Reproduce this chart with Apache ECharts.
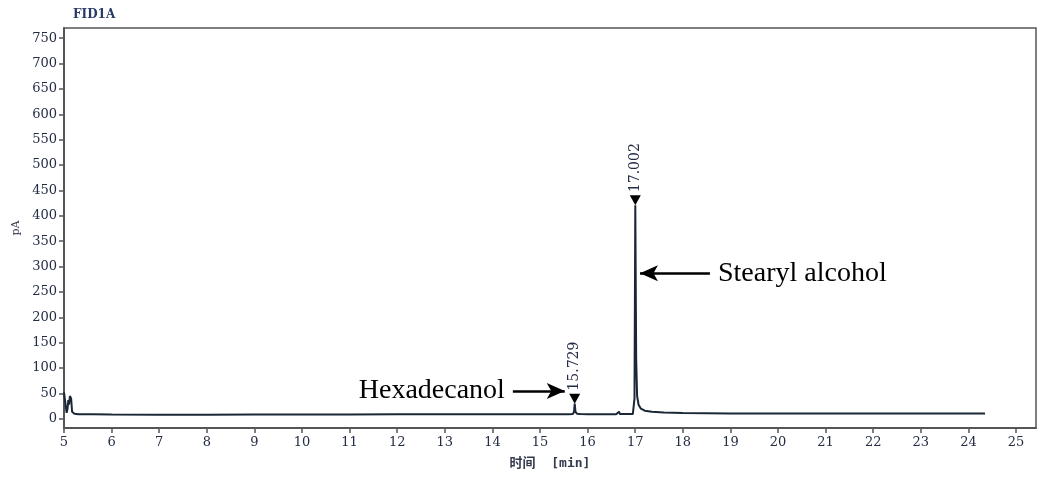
<!DOCTYPE html>
<html>
<head>
<meta charset="utf-8">
<title>FID1A</title>
<script src="https://cdn.jsdelivr.net/npm/echarts@6/dist/echarts.min.js"></script>
<style>
    html, body { margin: 0; padding: 0; background: #fff; }
    #chart { width: 1041px; height: 484px; }
</style>
</head>
<body>
<div id="chart"></div>
<script>
    // 色谱数据: 保留时间 (min) 与信号 (pA)
    var times = [5.00, 5.03, 5.055, 5.075, 5.09, 5.105, 5.125, 5.15, 5.17, 5.22, 5.3, 5.6,
        6.0, 7.0, 8.0, 9.0, 10.0, 11.0, 12.0, 13.0, 14.0, 15.0, 15.6, 15.69, 15.715, 15.729, 15.745,
        15.78, 15.85, 16.0, 16.6, 16.64, 16.66, 16.68, 16.72, 16.95, 16.985, 17.002, 17.02, 17.04,
        17.07, 17.12, 17.2, 17.35, 17.6, 18.0, 18.5, 19.0, 20.0, 21.0, 22.0, 23.0, 24.0, 24.35];
    var signal = [52, 30, 12, 20, 37, 28, 45, 40, 14, 10, 9, 9,
        8.5, 8, 8, 8.5, 8.5, 8.5, 9, 9, 9, 9, 9, 9.5, 14, 30, 14,
        10, 9.5, 9, 9, 9.5, 14, 9.5, 9, 9.5, 40, 421, 120, 45,
        28, 20, 16, 14, 12.5, 11.5, 11, 10.5, 10.5, 10.5, 10.5, 10.5, 10.5, 10.5];

    // 积分峰
    var peakTimes = [15.729, 17.002];
    var peakHeights = [30, 421];

    // 刻度
    var xTicks = [5, 6, 7, 8, 9, 10, 11, 12, 13, 14, 15, 16, 17, 18, 19, 20, 21, 22, 23, 24, 25];
    var yTicks = [0, 50, 100, 150, 200, 250, 300, 350, 400, 450, 500, 550, 600, 650, 700, 750];

    // 注释
    var notes = ['Hexadecanol', 'Stearyl alcohol'];
    var noteFrom = [[14.43, 55], [18.57, 287]];
    var noteTo = [[15.52, 55], [17.10, 287]];

    var tickFont = 'DejaVu Serif';
    var tickColor = '#222c44';

    var chart = echarts.init(document.getElementById('chart'), null, { renderer: 'canvas' });

    var lineData = times.map(function (t, i) { return [t, signal[i]]; });
    var peakData = peakTimes.map(function (t, i) { return [t, peakHeights[i]]; });
    var noteLines = notes.map(function (txt, i) {
        return [
            { coord: noteFrom[i], label: { formatter: txt } },
            { coord: noteTo[i] }
        ];
    });

    var option = {
        animation: false,
        backgroundColor: '#fff',
        title: {
            text: 'FID1A',
            left: 68,
            top: 4,
            textStyle: { fontFamily: tickFont, fontSize: 12, fontWeight: 'bold', color: '#2a3a66' }
        },
        grid: {
            left: 64, right: 5, top: 28, bottom: 56,
            show: true,
            borderColor: '#555',
            borderWidth: 1.5,
            containLabel: false
        },
        xAxis: {
            type: 'value',
            min: 5,
            max: 25.42,
            name: '时间  [min]',
            nameLocation: 'middle',
            nameGap: 29,
            nameTextStyle: { fontFamily: 'DejaVu Sans Mono, Noto Sans CJK SC', fontSize: 13, fontWeight: 'bold', color: '#333a4d' },
            axisLine: { show: true, onZero: false, lineStyle: { color: '#555', width: 2 } },
            axisTick: { show: true, length: 5, customValues: xTicks, lineStyle: { color: '#555', width: 1.5 } },
            axisLabel: { customValues: xTicks, margin: 8, fontFamily: tickFont, fontSize: 13, color: tickColor },
            splitLine: { show: false }
        },
        yAxis: {
            type: 'value',
            min: -18,
            max: 770,
            name: 'pA',
            nameLocation: 'middle',
            nameGap: 39,
            nameTextStyle: { fontFamily: tickFont, fontSize: 11, color: '#333a4d' },
            axisLine: { show: true, onZero: false, lineStyle: { color: '#555', width: 2 } },
            axisTick: { show: true, length: 5, customValues: yTicks, lineStyle: { color: '#555', width: 1.5 } },
            axisLabel: { customValues: yTicks, margin: 7, fontFamily: tickFont, fontSize: 13, color: tickColor },
            splitLine: { show: false }
        },
        series: [{
            name: 'FID1A',
            type: 'line',
            data: lineData,
            symbol: 'none',
            silent: true,
            lineStyle: { color: '#1b2736', width: 2 },
            markLine: {
                silent: true,
                symbol: ['none', 'arrow'],
                symbolSize: [12, 18],
                lineStyle: { color: '#000', width: 2.5, type: 'solid' },
                label: {
                    show: true,
                    position: 'start',
                    distance: 8,
                    fontFamily: 'Liberation Serif',
                    fontSize: 28,
                    color: '#000'
                },
                data: noteLines
            }
        }, {
            name: 'peaks',
            type: 'scatter',
            data: peakData,
            silent: true,
            symbol: 'triangle',
            symbolRotate: 180,
            symbolSize: [11, 10],
            symbolOffset: [0, -5],
            itemStyle: { color: '#000', opacity: 1 },
            label: {
                show: true,
                position: 'top',
                rotate: 90,
                align: 'left',
                verticalAlign: 'middle',
                distance: 3,
                fontFamily: tickFont,
                fontSize: 14,
                color: tickColor,
                formatter: function (p) { return p.value[0].toFixed(3); }
            },
            z: 3
        }]
    };

    chart.setOption(option);
    window.addEventListener('resize', function () { chart.resize(); });
</script>
</body>
</html>
